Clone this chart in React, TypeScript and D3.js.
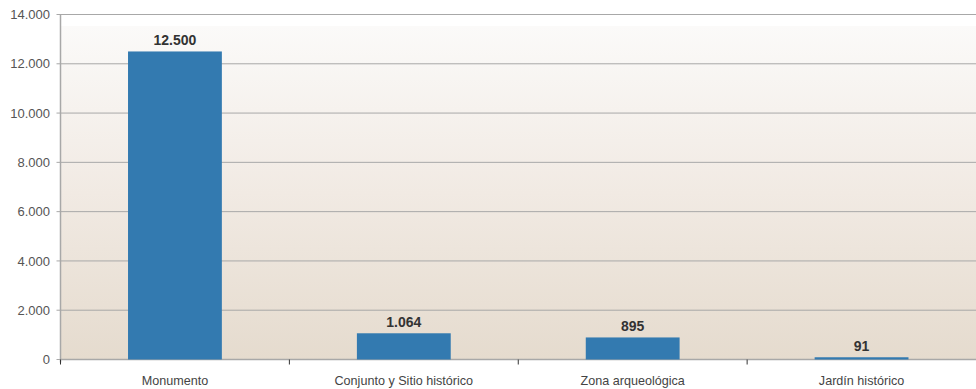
import React from "react";
import * as d3 from "d3";

const categories = ["Monumento", "Conjunto y Sitio histórico", "Zona arqueológica", "Jardín histórico"];
const values = [12500, 1064, 895, 91];
const yTicks = [0, 2000, 4000, 6000, 8000, 10000, 12000, 14000];

const W = 976;
const H = 389;
const margin = { top: 14, right: 0, bottom: 29, left: 60.5 };

const fmt = (v: number) => v.toString().replace(/\B(?=(\d{3})+(?!\d))/g, ".");

export default function App() {
  const x = d3
    .scaleBand<string>()
    .domain(categories)
    .range([margin.left, W - margin.right])
    .paddingInner(0.59)
    .paddingOuter(0.295);
  const y = d3.scaleLinear().domain([0, 14000]).range([H - margin.bottom - 0.5, margin.top + 0.5]);
  const step = (W - margin.right - margin.left) / categories.length;
  const font = "'Liberation Sans', Arial, sans-serif";

  return (
    <svg
      width={W}
      height={H}
      style={{ position: "absolute", left: 0, top: 0, display: "block" }}
    >
      <defs>
        <linearGradient id="plotBg" x1="0" y1="0" x2="0" y2="1">
          <stop offset="0" stopColor="#fbfaf9" />
          <stop offset="0.5" stopColor="#f1eae3" />
          <stop offset="1" stopColor="#e5dbce" />
        </linearGradient>
      </defs>
      <rect x={0} y={0} width={W} height={H} fill="#fff" />
      <rect
        x={margin.left}
        y={26}
        width={W - margin.left - margin.right}
        height={y(0) - 26}
        fill="url(#plotBg)"
      />
      {yTicks.map((t) => (
        <g key={t}>
          <line x1={margin.left - 4} x2={W} y1={y(t)} y2={y(t)} stroke="#a8a8a8" strokeWidth={1} />
          <text
            x={50}
            y={y(t)}
            dy="0.36em"
            textAnchor="end"
            fontFamily={font}
            fontSize={13}
            fill="#555"
          >
            {fmt(t)}
          </text>
        </g>
      ))}
      <line x1={margin.left} x2={margin.left} y1={margin.top} y2={y(0) + 3} stroke="#a8a8a8" strokeWidth={1.5} />
      <line x1={margin.left} x2={W} y1={y(0)} y2={y(0)} stroke="#a8a8a8" strokeWidth={1.5} />
      {categories.map((c, i) => (
        <line
          key={"tk" + c}
          x1={margin.left + step * i}
          x2={margin.left + step * i}
          y1={y(0)}
          y2={y(0) + 5}
          stroke="#333"
          strokeWidth={1}
        />
      ))}
      {categories.map((c, i) => (
        <g key={c}>
          <rect
            x={x(c)}
            y={y(values[i])}
            width={x.bandwidth()}
            height={y(0) - y(values[i])}
            fill="#337ab0"
          />
          <text
            x={(x(c) as number) + x.bandwidth() / 2}
            y={y(values[i]) - 6}
            textAnchor="middle"
            fontFamily={font}
            fontSize={14}
            fontWeight="bold"
            fill="#333"
          >
            {fmt(values[i])}
          </text>
          <text
            x={(x(c) as number) + x.bandwidth() / 2}
            y={385}
            textAnchor="middle"
            fontFamily={font}
            fontSize={12.6}
            fill="#444"
          >
            {c}
          </text>
        </g>
      ))}
    </svg>
  );
}
